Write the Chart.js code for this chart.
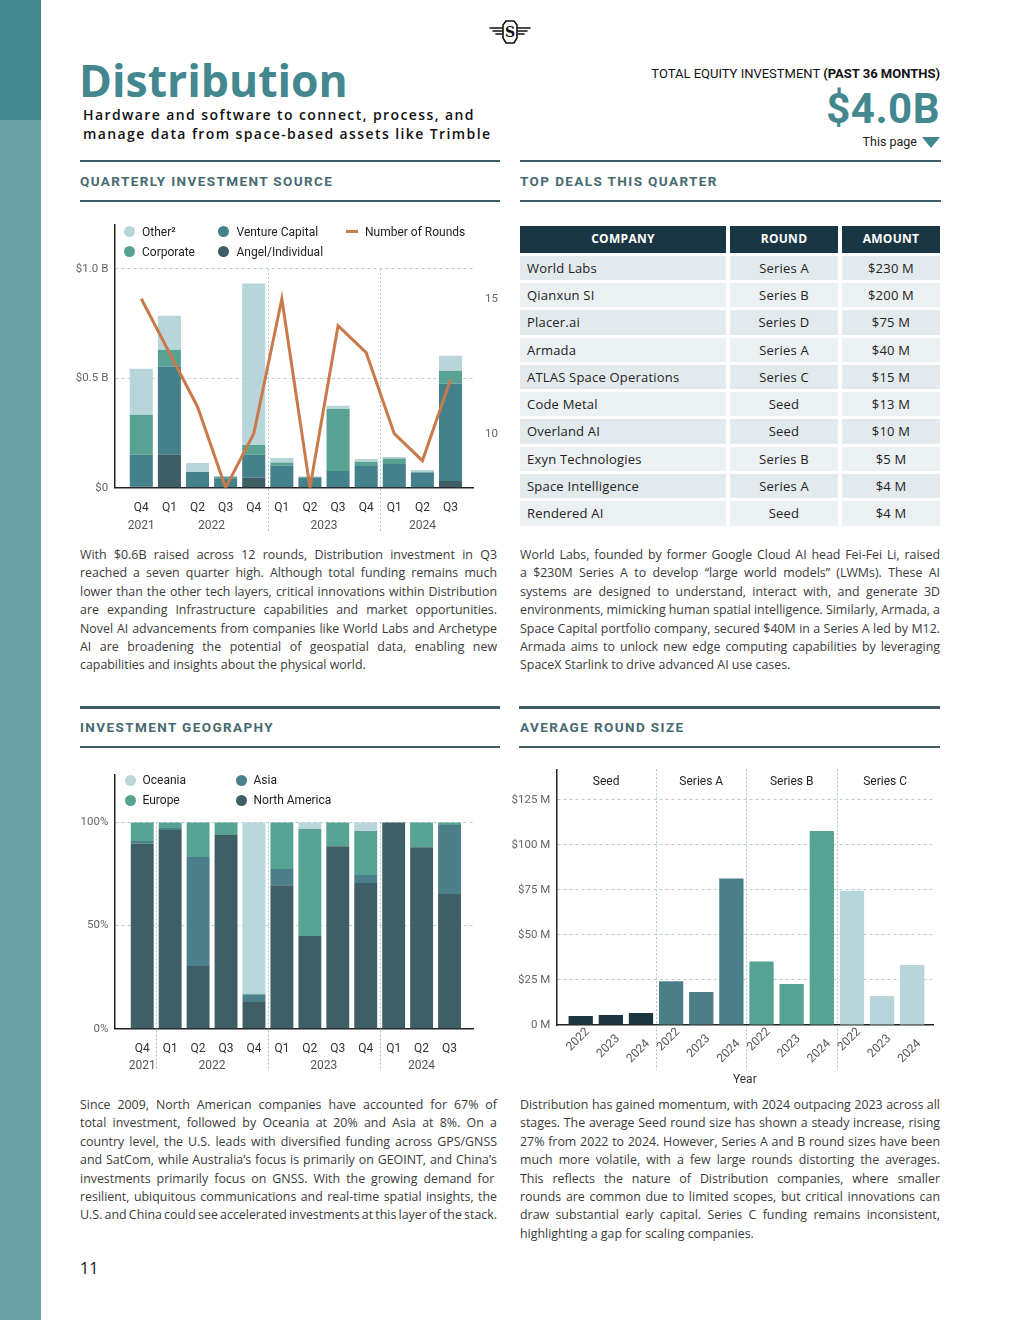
<!DOCTYPE html>
<html lang="en">
<head>
<meta charset="UTF-8">
<title>Distribution</title>
<script src="https://cdn.jsdelivr.net/npm/chart.js"></script>
<style>
    body { margin: 0; background: #fff; }
    #page { position: relative; width: 1020px; height: 1320px; overflow: hidden; font-family: Roboto, sans-serif; }
    .abs { position: absolute; }
    .side-top { left: 0; top: 0; width: 41px; height: 120px; background: #41878e; }
    .side-bot { left: 0; top: 120px; width: 41px; height: 1200px; background: #67a1a6; }
    .title { left: 79px; top: 50px; font-family: "Open Sans"; font-weight: 700; font-size: 44.5px; line-height: 60px; color: #43878f; letter-spacing: 0; }
    .subtitle { left: 83px; top: 105px; font-family: "Open Sans"; font-weight: 600; font-size: 14px; line-height: 19px; color: #111; letter-spacing: 1.4px; }
    .total { right: 80px; top: 66px; font-size: 13px; line-height: 16px; color: #111; text-align: right; }
    .big { right: 80px; top: 86px; font-weight: 700; font-size: 42px; line-height: 46px; color: #43878f; letter-spacing: 0.5px; }
    .thispage { right: 80px; top: 134px; font-size: 12.5px; line-height: 15px; color: #222; }
    .thispage span { display: inline-block; width: 0; height: 0; border-left: 9px solid transparent; border-right: 9px solid transparent; border-top: 11px solid #43878f; vertical-align: middle; margin-left: 5px; }
    .rule { height: 2.5px; background: #3e5c63; }
    .head { font-weight: 700; font-size: 13.5px; letter-spacing: 1.4px; color: #466a71; line-height: 16px; }
    .para { font-family: "Open Sans"; font-size: 12.4px; line-height: 18.4px; color: #3a3a3a; }
    .para .ln { white-space: nowrap; }
    .deals { left: 520px; top: 226px; display: grid; grid-template-columns: 206px 108px 98px; column-gap: 4px; row-gap: 3px; font-family: "Open Sans"; }
    .deals div { height: 24.3px; line-height: 24.3px; font-size: 13px; color: #222; letter-spacing: 0.2px; }
    .deals .th { height: 26.7px; line-height: 26.7px; background: #1b3643; color: #fff; font-weight: 700; font-size: 12px; text-align: center; letter-spacing: 0.3px; }
    .deals .c { padding-left: 7px; }
    .deals .m { text-align: center; }
    .legend { font-size: 12px; color: #222; line-height: 14px; }
    .legend .dot { position: absolute; width: 11px; height: 11px; border-radius: 50%; }
    .legend .bar { position: absolute; width: 12px; height: 3px; }
    .legend .lt { position: absolute; white-space: nowrap; }
    .chartbox { position: absolute; }
</style>
</head>
<body>
<div id="page">
    <div class="abs side-top"></div>
    <div class="abs side-bot"></div>

    <svg class="abs" style="left:487px; top:19px;" width="46" height="26" viewBox="0 0 46 26">
        <g stroke="#111" fill="none" stroke-linecap="round">
            <line x1="3" y1="9" x2="15" y2="9" stroke-width="1.6"/>
            <line x1="6" y1="12" x2="15" y2="12" stroke-width="1.6"/>
            <line x1="9" y1="15" x2="15" y2="15" stroke-width="1.6"/>
            <line x1="31" y1="9" x2="43" y2="9" stroke-width="1.6"/>
            <line x1="31" y1="12" x2="40" y2="12" stroke-width="1.6"/>
            <line x1="31" y1="15" x2="37" y2="15" stroke-width="1.6"/>
            <path d="M19 2 L27 2 L30 6 L30 19 L27 24 L19 24 L16 19 L16 6 Z" stroke-width="1.6"/>
        </g>
        <text x="23" y="18" font-family="DejaVu Serif" font-weight="bold" font-size="14" text-anchor="middle" fill="#111">S</text>
    </svg>

    <div class="abs title">Distribution</div>
    <div class="abs subtitle">Hardware and software to connect, process, and<br>manage data from space-based assets like Trimble</div>

    <div class="abs total">TOTAL EQUITY INVESTMENT <b>(PAST 36 MONTHS)</b></div>
    <div class="abs big">$4.0B</div>
    <div class="abs thispage">This page<span></span></div>

    <!-- section heads -->
    <div class="abs rule" style="left:80px; top:159.5px; width:420px;"></div>
    <div class="abs head" style="left:80px; top:173px;">QUARTERLY INVESTMENT SOURCE</div>
    <div class="abs rule" style="left:80px; top:199.5px; width:420px;"></div>

    <div class="abs rule" style="left:520px; top:159.5px; width:421px;"></div>
    <div class="abs head" style="left:520px; top:173px;">TOP DEALS THIS QUARTER</div>
    <div class="abs rule" style="left:520px; top:199.5px; width:421px;"></div>

    <div class="abs rule" style="left:80px; top:706px; width:420px;"></div>
    <div class="abs head" style="left:80px; top:719px;">INVESTMENT GEOGRAPHY</div>
    <div class="abs rule" style="left:80px; top:745.5px; width:420px;"></div>

    <div class="abs rule" style="left:519px; top:706px; width:421px;"></div>
    <div class="abs head" style="left:520px; top:719px;">AVERAGE ROUND SIZE</div>
    <div class="abs rule" style="left:519px; top:745.5px; width:421px;"></div>

    <!-- charts -->
    <div class="chartbox" style="left:70px; top:215px; width:430px; height:330px;"><canvas id="sourceChart"></canvas></div>
    <div class="abs legend" style="left:0; top:0;">
        <div class="dot" style="left:124px; top:226px; background:#b8d6da;"></div><div class="lt" style="left:142px; top:224.5px;">Other²</div>
        <div class="dot" style="left:124px; top:246px; background:#58a293;"></div><div class="lt" style="left:142px; top:244.5px;">Corporate</div>
        <div class="dot" style="left:218px; top:226px; background:#44818b;"></div><div class="lt" style="left:236.5px; top:224.5px;">Venture Capital</div>
        <div class="dot" style="left:218px; top:246px; background:#3e5d64;"></div><div class="lt" style="left:236.5px; top:244.5px;">Angel/Individual</div>
        <div class="bar" style="left:346px; top:230px; background:#c87a4b;"></div><div class="lt" style="left:365px; top:224.5px;">Number of Rounds</div>
    </div>

    <div class="chartbox" style="left:70px; top:765px; width:430px; height:320px;"><canvas id="geoChart"></canvas></div>
    <div class="abs legend" style="left:0; top:0;">
        <div class="dot" style="left:125px; top:774.5px; background:#b9d7db;"></div><div class="lt" style="left:142.5px; top:773px;">Oceania</div>
        <div class="dot" style="left:125px; top:794.5px; background:#57a393;"></div><div class="lt" style="left:142.5px; top:793px;">Europe</div>
        <div class="dot" style="left:236px; top:774.5px; background:#4b808a;"></div><div class="lt" style="left:253.5px; top:773px;">Asia</div>
        <div class="dot" style="left:236px; top:794.5px; background:#3f5f66;"></div><div class="lt" style="left:253.5px; top:793px;">North America</div>
    </div>

    <div class="chartbox" style="left:500px; top:760px; width:445px; height:330px;"><canvas id="roundChart"></canvas></div>

    <!-- table -->
    <div class="abs deals" id="deals"></div>

    <!-- text -->
    <div class="abs para" style="left:80px; top:546px; width:417px;">
        <div class="ln">With $0.6B raised across 12 rounds, Distribution investment in Q3</div>
        <div class="ln">reached a seven quarter high. Although total funding remains much</div>
        <div class="ln">lower than the other tech layers, critical innovations within Distribution</div>
        <div class="ln">are expanding Infrastructure capabilities and market opportunities.</div>
        <div class="ln">Novel AI advancements from companies like World Labs and Archetype</div>
        <div class="ln">AI are broadening the potential of geospatial data, enabling new</div>
        <div class="ln last">capabilities and insights about the physical world.</div>
    </div>
    <div class="abs para" style="left:520px; top:546px; width:420px;">
        <div class="ln">World Labs, founded by former Google Cloud AI head Fei-Fei Li, raised</div>
        <div class="ln">a $230M Series A to develop “large world models” (LWMs). These AI</div>
        <div class="ln">systems are designed to understand, interact with, and generate 3D</div>
        <div class="ln">environments, mimicking human spatial intelligence. Similarly, Armada, a</div>
        <div class="ln">Space Capital portfolio company, secured $40M in a Series A led by M12.</div>
        <div class="ln">Armada aims to unlock new edge computing capabilities by leveraging</div>
        <div class="ln last">SpaceX Starlink to drive advanced AI use cases.</div>
    </div>
    <div class="abs para" style="left:80px; top:1096px; width:417px;">
        <div class="ln">Since 2009, North American companies have accounted for 67% of</div>
        <div class="ln">total investment, followed by Oceania at 20% and Asia at 8%. On a</div>
        <div class="ln">country level, the U.S. leads with diversified funding across GPS/GNSS</div>
        <div class="ln">and SatCom, while Australia’s focus is primarily on GEOINT, and China’s</div>
        <div class="ln">investments primarily focus on  GNSS. With the growing demand for</div>
        <div class="ln">resilient, ubiquitous communications and real-time spatial insights, the</div>
        <div class="ln">U.S. and China could see accelerated investments at this layer of the stack.</div>
    </div>
    <div class="abs para" style="left:520px; top:1096px; width:420px;">
        <div class="ln">Distribution has gained momentum, with 2024 outpacing 2023 across all</div>
        <div class="ln">stages. The average Seed round size has shown a steady increase, rising</div>
        <div class="ln">27% from 2022 to 2024. However, Series A and B round sizes have been</div>
        <div class="ln">much more volatile, with a few large rounds distorting the averages.</div>
        <div class="ln">This reflects the nature of Distribution companies, where smaller</div>
        <div class="ln">rounds are common due to limited scopes, but critical innovations can</div>
        <div class="ln">draw substantial early capital. Series C funding remains inconsistent,</div>
        <div class="ln last">highlighting a gap for scaling companies.</div>
    </div>

    <div class="abs" style="left:80px; top:1258px; font-family:'Open Sans'; font-size:16px; line-height:20px; color:#111;">11</div>
</div>

<script>
    // ---- data ----
    var quarterLabels = ['Q4', 'Q1', 'Q2', 'Q3', 'Q4', 'Q1', 'Q2', 'Q3', 'Q4', 'Q1', 'Q2', 'Q3'];
    var yearLabels = ['2021', '2022', '2023', '2024'];

    // quarterly investment source, $B
    var angelVals = [0.005, 0.15, 0, 0, 0.046, 0.003, 0, 0.003, 0, 0, 0, 0.031];
    var vcVals = [0.145, 0.404, 0.072, 0.043, 0.104, 0.097, 0.046, 0.073, 0.099, 0.108, 0.069, 0.445];
    var corporateVals = [0.183, 0.076, 0, 0.007, 0.045, 0.015, 0.004, 0.284, 0.019, 0.025, 0.004, 0.058];
    var otherVals = [0.21, 0.156, 0.041, 0.003, 0.738, 0.021, 0, 0.014, 0.013, 0.007, 0.008, 0.069];
    var roundsVals = [15, 13, 11, 8, 10, 15, 8, 14, 13, 10, 9, 12];

    // investment geography, % of quarter
    var northAmericaVals = [89.7, 96.3, 30.4, 93.9, 12.9, 69.6, 44.9, 88.5, 70.6, 100, 88.0, 65.3];
    var asiaVals = [1.3, 1.0, 52.8, 0, 3.7, 7.8, 0, 0, 3.9, 0, 0, 33.4];
    var europeVals = [9.0, 2.7, 16.8, 6.1, 0.4, 22.6, 51.9, 11.5, 21.3, 0, 12.0, 1.3];
    var oceaniaVals = [0, 0, 0, 0, 83.0, 0, 3.2, 0, 4.2, 0, 0, 0];

    // average round size, $M
    var roundTypes = ['Seed', 'Series A', 'Series B', 'Series C'];
    var roundYears = ['2022', '2023', '2024'];
    var seedAvg = [5.0, 5.6, 6.7];
    var seriesAAvg = [24.3, 18.3, 81.3];
    var seriesBAvg = [35.2, 22.8, 107.8];
    var seriesCAvg = [74.6, 16.1, 33.3];

    // top deals
    var dealCompanies = ['World Labs', 'Qianxun SI', 'Placer.ai', 'Armada', 'ATLAS Space Operations', 'Code Metal', 'Overland AI', 'Exyn Technologies', 'Space Intelligence', 'Rendered AI'];
    var dealRounds = ['Series A', 'Series B', 'Series D', 'Series A', 'Series C', 'Seed', 'Seed', 'Series B', 'Series A', 'Seed'];
    var dealAmounts = ['$230 M', '$200 M', '$75 M', '$40 M', '$15 M', '$13 M', '$10 M', '$5 M', '$4 M', '$4 M'];

    // ---- table ----
    var deals = document.getElementById('deals');
    var html = '<div class="th">COMPANY</div><div class="th">ROUND</div><div class="th">AMOUNT</div>';
    dealCompanies.forEach(function (c, i) {
        var bg = i % 2 === 0 ? '#e2eaed' : '#ebf0f2';
        html += '<div class="c" style="background:' + bg + '">' + c + '</div>' +
                '<div class="m" style="background:' + bg + '">' + dealRounds[i] + '</div>' +
                '<div class="m" style="background:' + bg + '">' + dealAmounts[i] + '</div>';
    });
    deals.innerHTML = html;

    // ---- charts ----
    Chart.defaults.font.family = 'Roboto';
    Chart.defaults.animation = false;
    Chart.defaults.plugins.legend.display = false;
    Chart.defaults.plugins.tooltip.enabled = false;

    function pts(arr, offset) {
        return arr.map(function (v, i) { return { x: i + (offset || 0), y: v }; });
    }

    // year groups from the quarter labels
    function yearGroups() {
        var groups = [], k = 0;
        quarterLabels.forEach(function (q, i) {
            if (i > 0 && q === 'Q1') k++;
            if (!groups[k]) groups[k] = { first: i, last: i };
            groups[k].last = i;
        });
        return groups.map(function (g, j) {
            return { text: yearLabels[j], at: (g.first + g.last) / 2, first: g.first, last: g.last };
        });
    }
    var years = yearGroups();

    // dotted group separators and group captions, placed with the x scale
    var marksPlugin = {
        id: 'marks',
        beforeDatasetsDraw: function (chart, args, o) {
            var ctx = chart.ctx, xs = chart.scales.x, ys = chart.scales.y;
            var top = ys.getPixelForValue(o.topValue);
            ctx.save();
            ctx.strokeStyle = '#a9c3c7';
            ctx.lineWidth = 1;
            ctx.setLineDash([2, 2]);
            o.lines.forEach(function (v) {
                var px = Math.round(xs.getPixelForValue(v)) + 0.5;
                ctx.beginPath();
                ctx.moveTo(px, top);
                ctx.lineTo(px, chart.chartArea.bottom + o.below);
                ctx.stroke();
            });
            ctx.restore();
        },
        afterDraw: function (chart, args, o) {
            var ctx = chart.ctx, xs = chart.scales.x, area = chart.chartArea;
            ctx.save();
            ctx.font = o.font;
            ctx.fillStyle = o.color;
            ctx.textAlign = 'center';
            ctx.textBaseline = 'middle';
            o.labels.forEach(function (l) {
                var y = o.fromTop ? area.top + o.labelY : area.bottom + o.labelY;
                ctx.fillText(l.text, xs.getPixelForValue(l.at), y);
            });
            ctx.restore();
        }
    };

    var gridColor = function (c) { return c.tick && c.tick.value === 0 ? 'rgba(0,0,0,0)' : '#b9cdd1'; };

    // fixed width for a value axis, no extra label padding pushing the plot area
    function fitWidth(w) {
        return function (s) { s.width = w; s.paddingTop = 0; s.paddingBottom = 0; };
    }

    function quarterAxis(min, max, height) {
        return {
            type: 'linear', min: min, max: max, stacked: true, offset: false,
            grid: { display: false },
            border: { color: '#222', width: 1.5 },
            afterBuildTicks: function (s) { s.ticks = quarterLabels.map(function (q, i) { return { value: i }; }); },
            afterFit: function (s) { s.height = height; },
            ticks: { callback: function (v) { return quarterLabels[v]; }, color: '#333', font: { size: 12 }, padding: 5, maxRotation: 0, autoSkip: false }
        };
    }

    // Quarterly investment source
    new Chart(document.getElementById('sourceChart'), {
        type: 'bar',
        data: {
            datasets: [
                { type: 'line', label: 'Number of Rounds', data: pts(roundsVals), yAxisID: 'y2', borderColor: '#c87a4b', borderWidth: 3, pointRadius: 0, tension: 0, order: 0 },
                { label: 'Angel/Individual', data: pts(angelVals), backgroundColor: '#3e5d64', order: 1 },
                { label: 'Venture Capital', data: pts(vcVals), backgroundColor: '#44818b', order: 1 },
                { label: 'Corporate', data: pts(corporateVals), backgroundColor: '#58a293', order: 1 },
                { label: 'Other²', data: pts(otherVals), backgroundColor: '#b8d6da', order: 1 }
            ]
        },
        plugins: [marksPlugin],
        options: {
            responsive: true, maintainAspectRatio: false,
            layout: { padding: { top: 10, left: 0, right: 0, bottom: 0 } },
            datasets: { bar: { categoryPercentage: 0.82, barPercentage: 1 } },
            scales: {
                x: quarterAxis(-0.96, 11.8, 57.3),
                y: {
                    min: 0, max: 1.2, stacked: true,
                    afterBuildTicks: function (s) { s.ticks = [0, 0.5, 1].map(function (v) { return { value: v }; }); },
                    afterFit: fitWidth(44.3),
                    grid: { color: gridColor, drawTicks: false },
                    border: { color: '#222', width: 1.5, dash: [3, 3] },
                    ticks: { callback: function (v) { return v === 0 ? '$0' : '$' + v.toFixed(1) + ' B'; }, color: '#666', font: { size: 11.5 }, padding: 6 }
                },
                y2: {
                    position: 'right', min: 8, max: 17.73,
                    grid: { display: false }, border: { display: false },
                    afterBuildTicks: function (s) { s.ticks = [10, 15].map(function (v) { return { value: v }; }); },
                    afterFit: fitWidth(27),
                    ticks: { color: '#666', font: { size: 11.5 }, padding: 4 }
                }
            },
            plugins: {
                marks: {
                    topValue: 1.0, below: 44,
                    lines: [years[1].last + 0.5, years[2].last + 0.5],
                    labels: years, labelY: 38, font: '12px Roboto', color: '#555'
                }
            }
        }
    });

    // Investment geography
    new Chart(document.getElementById('geoChart'), {
        type: 'bar',
        data: {
            datasets: [
                { label: 'North America', data: pts(northAmericaVals), backgroundColor: '#3f5f66' },
                { label: 'Asia', data: pts(asiaVals), backgroundColor: '#4b808a' },
                { label: 'Europe', data: pts(europeVals), backgroundColor: '#57a393' },
                { label: 'Oceania', data: pts(oceaniaVals), backgroundColor: '#b9d7db' }
            ]
        },
        plugins: [marksPlugin],
        options: {
            responsive: true, maintainAspectRatio: false,
            layout: { padding: { top: 10, left: 0, right: 27, bottom: 0 } },
            datasets: { bar: { categoryPercentage: 0.82, barPercentage: 1 } },
            scales: {
                x: quarterAxis(-1.0, 11.84, 56.3),
                y: {
                    min: 0, max: 123, stacked: true,
                    afterBuildTicks: function (s) { s.ticks = [0, 50, 100].map(function (v) { return { value: v }; }); },
                    afterFit: fitWidth(44.3),
                    grid: { color: gridColor, drawTicks: false },
                    border: { color: '#222', width: 1.5, dash: [3, 3] },
                    ticks: { callback: function (v) { return v + '%'; }, color: '#666', font: { size: 11.5 }, padding: 6 }
                }
            },
            plugins: {
                marks: {
                    topValue: 100, below: 42,
                    lines: [years[0].last + 0.5, years[1].last + 0.5, years[2].last + 0.5],
                    labels: years, labelY: 37, font: '12px Roboto', color: '#555'
                }
            }
        }
    });

    // Average round size
    var roundSeries = [seedAvg, seriesAAvg, seriesBAvg, seriesCAvg];
    var roundColors = ['#1c3641', '#4a7f89', '#56a393', '#b8d5d9'];
    var perGroup = roundYears.length;
    var xMin = -0.81, xMax = 11.7;
    var labelDrop = [0, 6.7, 11.7];   // rotated year labels step down inside a group
    var roundGroupLabels = roundTypes.map(function (t, g) {
        var from = g === 0 ? xMin : g * perGroup - 0.5;
        var to = g === roundTypes.length - 1 ? xMax : (g + 1) * perGroup - 0.5;
        return { text: t, at: (from + to) / 2 };
    });

    new Chart(document.getElementById('roundChart'), {
        type: 'bar',
        data: {
            datasets: roundSeries.map(function (vals, g) {
                return { label: roundTypes[g], data: pts(vals, g * perGroup), backgroundColor: roundColors[g] };
            })
        },
        plugins: [marksPlugin],
        options: {
            responsive: true, maintainAspectRatio: false,
            layout: { padding: { top: 9.3, left: 0, right: 11.7, bottom: 0 } },
            datasets: { bar: { categoryPercentage: 0.806, barPercentage: 1 } },
            scales: {
                x: {
                    type: 'linear', min: xMin, max: xMax, stacked: true, offset: false,
                    grid: { display: false },
                    border: { color: '#222', width: 1.5 },
                    afterBuildTicks: function (s) {
                        s.ticks = [];
                        for (var i = 0; i < roundTypes.length * perGroup; i++) s.ticks.push({ value: i });
                    },
                    afterFit: function (s) { s.height = 65; },
                    ticks: {
                        callback: function (v) { return roundYears[v % perGroup]; },
                        color: '#555', padding: -8, labelOffset: 7,
                        font: function (c) { return { size: 12, lineHeight: (14.4 + labelDrop[c.index % perGroup] / 0.3536) + 'px' }; },
                        minRotation: 45, maxRotation: 45, autoSkip: false
                    },
                    title: { display: true, text: 'Year', color: '#333', font: { size: 12 }, padding: { top: 0, bottom: 3 } }
                },
                y: {
                    min: 0, max: 142, stacked: true,
                    afterBuildTicks: function (s) { s.ticks = [0, 25, 50, 75, 100, 125].map(function (v) { return { value: v }; }); },
                    afterFit: fitWidth(56.3),
                    grid: { color: gridColor, drawTicks: false },
                    border: { color: '#222', width: 1.5, dash: [3, 3] },
                    ticks: { callback: function (v) { return v === 0 ? '0 M' : '$' + v + ' M'; }, color: '#666', font: { size: 11.5 }, padding: 6 }
                }
            },
            plugins: {
                marks: {
                    topValue: 142, below: 45,
                    lines: [perGroup - 0.5, 2 * perGroup - 0.5, 3 * perGroup - 0.5],
                    labels: roundGroupLabels, labelY: 12.4, fromTop: true, font: '12px Roboto', color: '#222'
                }
            }
        }
    });

    // ---- justify paragraph lines ----
    function justify() {
        document.querySelectorAll('.para').forEach(function (p) {
            var W = p.clientWidth;
            p.querySelectorAll('.ln').forEach(function (ln) {
                if (ln.classList.contains('last')) return;
                var span = document.createElement('span');
                span.textContent = ln.textContent;
                ln.textContent = '';
                ln.appendChild(span);
                var w = span.getBoundingClientRect().width;
                var n = (span.textContent.match(/ /g) || []).length;
                if (n > 0) span.style.wordSpacing = ((W - w) / n) + 'px';
            });
        });
    }
    if (document.fonts && document.fonts.ready) document.fonts.ready.then(justify); else justify();
</script>
</body>
</html>
